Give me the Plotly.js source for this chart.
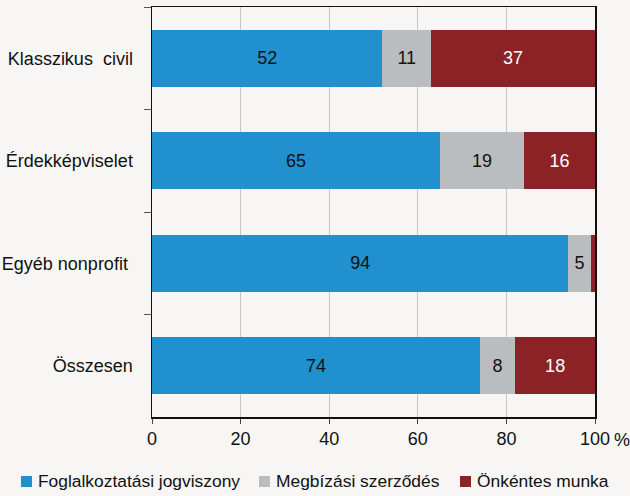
<!DOCTYPE html>
<html>
<head>
<meta charset="utf-8">
<script src="https://cdn.plot.ly/plotly-3.0.1.min.js"></script>
<style>
html,body{margin:0;padding:0;background:#f7f6f4;}
#chart{width:630px;height:496px;}
</style>
</head>
<body>
<div id="chart"></div>
<script>
const categories = ["Klasszikus  civil", "Érdekképviselet", "Egyéb nonprofit\u00a0", "Összesen"];
const seriesNames = ["Foglalkoztatási jogviszony", "Megbízási szerződés", "Önkéntes munka"];
const foglalkoztatasi = [52, 65, 94, 74];
const megbizasi = [11, 19, 5, 8];
const onkentes = [37, 16, 1, 18];
const onkentesLabels = ["37", "16", "", "18"];
const xTickVals = [0, 20, 40, 60, 80, 100];
const xTickText = ["0", "20", "40", "60", "80", "100"];

const FONT = "'Liberation Sans', Arial, sans-serif";
const colors = ["#2190cf", "#babdc0", "#8b2326"];
const textColors = ["#111111", "#111111", "#ffffff"];
const values = [foglalkoztatasi, megbizasi, onkentes];

// plot area geometry (pixels)
const L = 152, R = 35, T = 7, B = 79, W = 630, H = 496;
const PW = W - L - R, PH = H - T - B;
const px2x = p => (p - L) / PW;
const py2y = p => (H - B - p) / PH;

const traces = values.map((v, i) => ({
  type: "bar",
  orientation: "h",
  name: seriesNames[i],
  y: categories,
  x: v,
  text: i === 2 ? onkentesLabels : v.map(String),
  textposition: "inside",
  insidetextanchor: "middle",
  textangle: 0,
  insidetextfont: {family: FONT, size: 18, color: textColors[i]},
  constraintext: "none",
  marker: {color: colors[i], line: {width: 0}},
  hoverinfo: "none",
  showlegend: false
}));

// manual legend (squares + labels), positioned like the reference
const legendSquares = [21, 259, 460];
const legendTexts = [37, 275, 476];
const shapes = legendSquares.map((sx, i) => ({
  type: "rect", xref: "paper", yref: "paper",
  x0: px2x(sx), x1: px2x(sx + 11),
  y0: py2y(487), y1: py2y(476),
  fillcolor: colors[i], line: {width: 0}
}));
const annotations = legendTexts.map((tx, i) => ({
  text: seriesNames[i], xref: "paper", yref: "paper",
  x: px2x(tx - 1), y: py2y(481), xanchor: "left", yanchor: "middle",
  showarrow: false, font: {family: FONT, size: 17.4, color: "#111111"}
}));
annotations.push({
  text: "%", xref: "paper", yref: "paper", x: px2x(612), y: py2y(440),
  xanchor: "left", yanchor: "middle",
  showarrow: false, font: {family: FONT, size: 18, color: "#111111"}
});

const layout = {
  width: W,
  height: H,
  paper_bgcolor: "#f7f6f4",
  plot_bgcolor: "#f7f6f4",
  barmode: "stack",
  bargap: 0.444,
  margin: {l: L, r: R, t: T, b: B},
  font: {family: FONT, size: 18, color: "#111111"},
  showlegend: false,
  xaxis: {
    range: [0, 100],
    tickvals: xTickVals,
    ticktext: xTickText,
    showgrid: true,
    gridcolor: "#c6c6c6",
    gridwidth: 1,
    showline: true,
    linecolor: "#111111",
    linewidth: 1.5,
    mirror: true,
    ticks: "outside",
    ticklen: 5,
    tickcolor: "#444444",
    zeroline: false,
    tickfont: {family: FONT, size: 18, color: "#111111"}
  },
  yaxis: {
    type: "category",
    categoryorder: "array",
    categoryarray: categories,
    autorange: "reversed",
    showline: true,
    linecolor: "#111111",
    linewidth: 1.5,
    mirror: true,
    ticks: "outside",
    tickson: "boundaries",
    ticklen: 7,
    tickcolor: "#555555",
    showgrid: false,
    ticklabelstandoff: 14,
    tickfont: {family: FONT, size: 18, color: "#111111"}
  },
  shapes: shapes,
  annotations: annotations
};

Plotly.newPlot("chart", traces, layout, {displayModeBar: false, staticPlot: true});
</script>
</body>
</html>
